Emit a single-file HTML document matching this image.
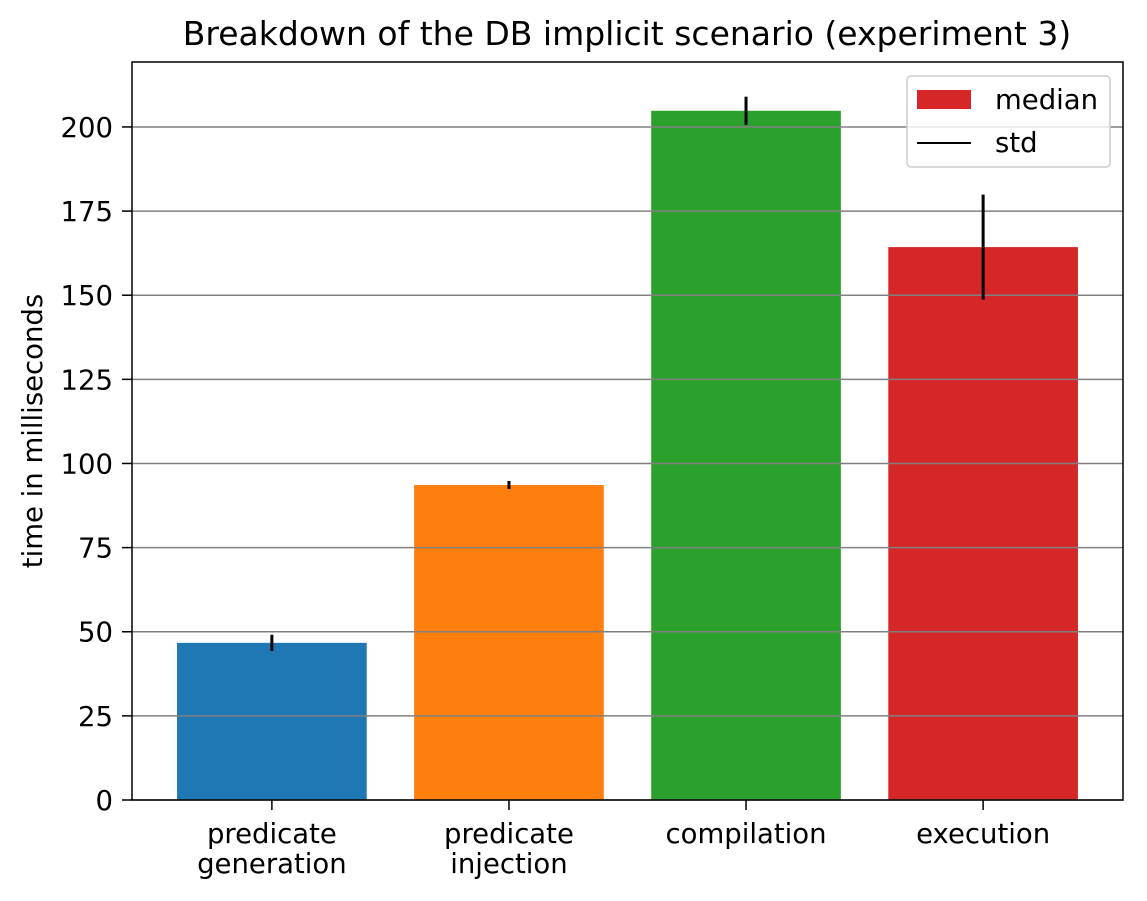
<!DOCTYPE html>
<html><head><meta charset="utf-8"><style>
html,body{margin:0;padding:0;background:#fff;}
svg{display:block;font-family:"DejaVu Sans","Liberation Sans",sans-serif;}
</style></head><body>
<svg id="chart" width="1147" height="901"></svg>
<script>
const categories=[["predicate","generation"],["predicate","injection"],["compilation"],["execution"]];
const medians=[46.7,93.6,204.8,164.3];
const stds=[2.4,1.2,4.2,15.6];
const colors=["#1f77b4","#ff7f0e","#2ca02c","#d62728"];
const yTicks=[0,25,50,75,100,125,150,175,200];

const svg=document.getElementById('chart');
const NS="http://www.w3.org/2000/svg";
const L=132,R=1123,T=62,B=800,yMax=219.3;
const xMin=-0.59,xMax=3.59;
const FS=27.5;
function y(v){return B-(v/yMax)*(B-T);}
function x(i){return L+(i-xMin)/(xMax-xMin)*(R-L);}
const bw=0.8*(R-L)/(xMax-xMin);
function mk(tag,attrs,parent){const e=document.createElementNS(NS,tag);for(const k in attrs)e.setAttribute(k,attrs[k]);(parent||svg).appendChild(e);return e;}

medians.forEach((m,i)=>{
  const r=mk('rect',{x:x(i)-bw/2,y:y(m),width:bw,height:B-y(m),fill:colors[i]});
  
  
});
yTicks.forEach(t=>{
  const g=mk('line',{x1:L,x2:R,y1:y(t),y2:y(t),stroke:'#808080','stroke-width':1.5});
  
  
  mk('line',{x1:L-10,x2:L,y1:y(t),y2:y(t),stroke:'#000','stroke-width':1.5});
  const tx=mk('text',{x:L-19,y:y(t)+10,'text-anchor':'end','font-size':FS});
  tx.textContent=t;
  
  
});
medians.forEach((m,i)=>{
  const e=mk('line',{x1:x(i),x2:x(i),y1:y(m-stds[i]),y2:y(m+stds[i]),stroke:'#000','stroke-width':3});
  
  
  mk('line',{x1:x(i),x2:x(i),y1:B,y2:B+10,stroke:'#000','stroke-width':1.5});
  categories[i].forEach((s,j)=>{
    const tx=mk('text',{x:x(i),y:B+43+j*30,'text-anchor':'middle','font-size':FS});
    tx.textContent=s;
    
    
  });
});
mk('rect',{x:L,y:T,width:R-L,height:B-T,fill:'none',stroke:'#000','stroke-width':1.5});
const yt=mk('text',{x:42,y:431,'text-anchor':'middle','font-size':FS,transform:'rotate(-90 42 431)'});
yt.textContent='time in milliseconds';


const tt=mk('text',{x:627,y:45,'text-anchor':'middle','font-size':33});
tt.textContent='Breakdown of the DB implicit scenario (experiment 3)';


const lg=mk('g',{});


mk('rect',{x:907,y:76,width:203,height:91,rx:4,fill:'#fff','fill-opacity':0.8,stroke:'#ccc','stroke-width':1.5},lg);
mk('rect',{x:917,y:90,width:54,height:19,fill:'#d62728'},lg);
mk('line',{x1:917,x2:971,y1:143,y2:143,stroke:'#000','stroke-width':2},lg);
const l1=mk('text',{x:995,y:109,'font-size':FS},lg);l1.textContent='median';
const l2=mk('text',{x:995,y:152,'font-size':FS},lg);l2.textContent='std';
</script>
</body></html>
